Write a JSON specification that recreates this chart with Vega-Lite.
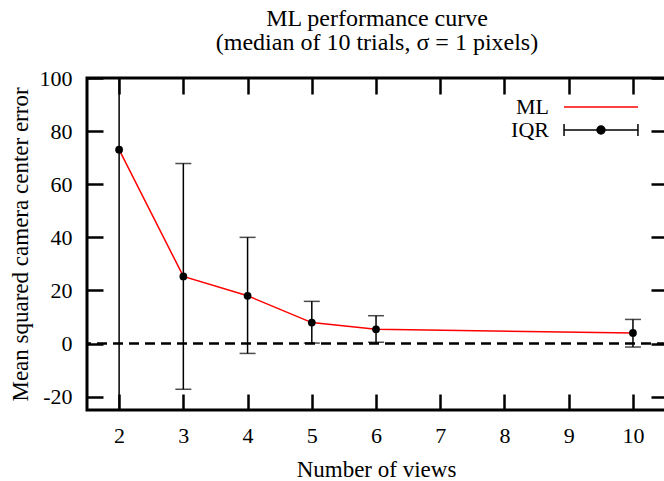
{
  "$schema": "https://vega.github.io/schema/vega-lite/v6.json",
  "width": 580,
  "height": 332,
  "autosize": "none",
  "padding": {"left": 87, "top": 78, "right": 0, "bottom": 71},
  "background": "white",
  "config": {
    "view": {"stroke": "black", "strokeWidth": 3},
    "font": "Liberation Serif",
    "axis": {"grid": false, "domain": false, "tickColor": "black", "tickWidth": 2.5, "labelColor": "black", "labelFont": "Liberation Serif", "labelFontSize": 22, "titleFont": "Liberation Serif", "titleFontSize": 23, "titleFontWeight": "normal", "titleColor": "black"}
  },
  "title": {
    "text": ["ML performance curve", "(median of 10 trials, σ = 1 pixels)"],
    "font": "Liberation Serif",
    "fontSize": 24,
    "fontWeight": "normal",
    "color": "black",
    "lineHeight": 24,
    "anchor": "middle",
    "baseline": "bottom",
    "offset": 14,
    "dy": 26
  },
  "data": {
    "values": [
      {"views": 2, "median": 73.0, "lo": -40, "hi": 140},
      {"views": 3, "median": 25.3, "lo": -17.2, "hi": 67.8},
      {"views": 4, "median": 18.0, "lo": -3.7, "hi": 40.0},
      {"views": 5, "median": 7.9, "lo": 0.2, "hi": 15.9},
      {"views": 6, "median": 5.4, "lo": 0.5, "hi": 10.5},
      {"views": 10, "median": 4.0, "lo": -1.3, "hi": 9.1}
    ]
  },
  "layer": [
    {
      "data": {"values": [{"z": 0}]},
      "mark": {"type": "rule", "color": "black", "strokeWidth": 2.5, "strokeDash": [10, 6]},
      "encoding": {
        "y": {"field": "z", "type": "quantitative", "scale": {"domain": [-25, 100], "nice": false, "zero": false}, "axis": null}
      }
    },
    {
      "mark": {"type": "rule", "color": "black", "strokeWidth": 1.5, "clip": true},
      "encoding": {
        "x": {"field": "views", "type": "quantitative", "scale": {"domain": [1.5, 10.53], "nice": false, "zero": false},
          "axis": {"orient": "bottom", "values": [2, 3, 4, 5, 6, 7, 8, 9, 10], "tickSize": -16, "labelPadding": 48, "labelBaseline": "alphabetic", "title": "Number of views", "titleX": 289, "titleY": 66, "titleBaseline": "alphabetic", "titleAlign": "center"}},
        "y": {"field": "lo", "type": "quantitative",
          "axis": {"orient": "left", "values": [-20, 0, 20, 40, 60, 80, 100], "tickSize": -16, "labelPadding": 31, "labelExpr": "'' + datum.value", "title": "Mean squared camera center error", "titleX": -60, "titleY": 166, "titleAngle": 270, "titleBaseline": "alphabetic", "titleAlign": "center"}},
        "y2": {"field": "hi"}
      }
    },
    {
      "mark": {"type": "tick", "orient": "horizontal", "color": "black", "size": 16, "thickness": 1.5, "clip": true},
      "encoding": {
        "x": {"field": "views", "type": "quantitative", "axis": null},
        "y": {"field": "lo", "type": "quantitative", "axis": null}
      }
    },
    {
      "mark": {"type": "tick", "orient": "horizontal", "color": "black", "size": 16, "thickness": 1.5, "clip": true},
      "encoding": {
        "x": {"field": "views", "type": "quantitative", "axis": null},
        "y": {"field": "hi", "type": "quantitative", "axis": null}
      }
    },
    {
      "mark": {"type": "line", "strokeWidth": 1.5},
      "encoding": {
        "x": {"field": "views", "type": "quantitative",
          "axis": {"orient": "top", "values": [2, 3, 4, 5, 6, 7, 8, 9, 10], "tickSize": -16, "labels": false, "title": null}},
        "y": {"field": "median", "type": "quantitative",
          "axis": {"orient": "right", "values": [-20, 0, 20, 40, 60, 80, 100], "tickSize": -16, "labels": false, "title": null}},
        "color": {"datum": "ML", "type": "nominal",
          "scale": {"domain": ["ML", "IQR"], "range": ["red", "black"]},
          "legend": {
            "title": null,
            "orient": "none",
            "legendX": 502,
            "legendY": 17,
            "padding": 0,
            "symbolSize": 484,
            "symbolStrokeWidth": 1.5,
            "rowPadding": 0,
            "labelFont": "Liberation Serif",
            "labelFontSize": 22,
            "labelColor": "black",
            "labelAlign": "right",
            "labelOffset": -64,
            "encode": {
              "symbols": {
                "update": {
                  "shape": {"signal": "datum.value === 'ML' ? 'M-3.36,0H3.36' : 'M-3.36,-0.55V0.55M-3.36,0H3.36M3.36,-0.55V0.55M0.36,0A0.36,0.36 0 1 1 -0.36,0A0.36,0.36 0 1 1 0.36,0Z'"},
                  "stroke": {"signal": "datum.value === 'ML' ? 'red' : 'black'"},
                  "fill": {"signal": "datum.value === 'ML' ? 'transparent' : 'black'"},
                  "strokeWidth": {"value": 1.5},
                  "size": {"value": 484},
                  "opacity": {"value": 1}
                }
              }
            }
          }
        }
      }
    },
    {
      "mark": {"type": "point", "filled": true, "opacity": 1, "size": 60},
      "encoding": {
        "x": {"field": "views", "type": "quantitative", "axis": null},
        "y": {"field": "median", "type": "quantitative", "axis": null},
        "color": {"datum": "IQR", "type": "nominal"}
      }
    }
  ],
  "resolve": {"axis": {"x": "independent", "y": "independent"}}
}
